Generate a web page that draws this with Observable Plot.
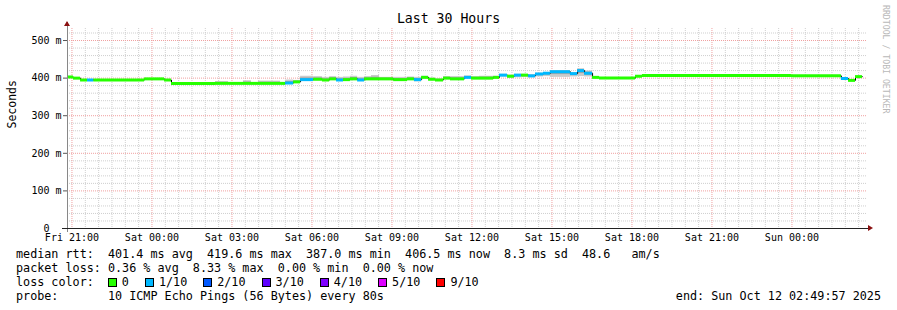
<!DOCTYPE html>
<html><head><meta charset="utf-8">
<script src="https://cdn.jsdelivr.net/npm/d3@7"></script>
<script src="https://cdn.jsdelivr.net/npm/@observablehq/plot@0.6"></script>
<style>
body{margin:0;background:#fff;}
#wrap{position:relative;width:897px;height:310px;overflow:hidden;font-family:"DejaVu Sans Mono",monospace;color:#000;background:#fff;}
#chart{position:absolute;left:0;top:0;}
#title{position:absolute;left:0;width:897px;top:11px;text-align:center;font-size:13.2px;line-height:16px;}
#mark{position:absolute;left:881px;top:5px;font-size:8.2px;color:#b8b8b8;writing-mode:vertical-rl;white-space:pre;line-height:10px;}
.ln{position:absolute;left:16px;font-size:11.75px;line-height:14px;white-space:pre;}
.box{display:inline-block;width:7px;height:7px;border:1px solid #000;vertical-align:-1px;}
#lossrow{display:flex;align-items:center;}
#lossrow span.t{margin-right:16px;}
#endline{position:absolute;right:16px;font-size:11.75px;line-height:14px;white-space:pre;}
</style></head><body>
<div id="wrap">
  <div id="chart"></div>
  <div id="title">Last 30 Hours</div>
  <div id="mark">RRDTOOL / TOBI OETIKER</div>
  <div class="ln" id="l1" style="top:247px"></div>
  <div class="ln" id="l2" style="top:261px"></div>
  <div class="ln" id="l3" style="top:275px"></div>
  <div class="ln" id="l4" style="top:289px"></div>
  <div id="endline" style="top:289px"></div>
</div>
<script>
// ---- data ----
const endTimeUTC = Date.UTC(2025, 9, 12, 2, 49, 57);   // Sun Oct 12 02:49:57 2025
const spanHours = 30;
// start of each median step, hours after the graph start
const segStartHour = [0, 0.225, 0.49, 0.75, 0.99, 2.89, 3.64, 3.90, 5.55, 6.04,
  6.60, 6.90, 7.16, 7.99, 8.18, 8.48, 8.74, 9.23, 9.56, 9.83,
  10.09, 10.35, 10.61, 10.88, 11.14, 11.40, 11.70, 12.23, 12.75, 13.01,
  13.28, 13.54, 13.80, 14.10, 14.36, 14.89, 15.15, 15.45, 15.98, 16.20,
  16.50, 16.76, 17.03, 17.29, 17.55, 17.85, 18.11, 18.86, 19.13, 19.39,
  19.69, 19.95, 21.30, 21.56, 27.15, 29.02, 29.29, 29.55];
const dataEndHour = 29.81;
// median rtt of each step, ms
const medianMs = [403, 400, 395, 395, 395, 398, 395, 386, 386, 386,
  386, 386, 386, 386, 387, 390, 396, 397, 395, 398,
  395, 396, 398, 395, 398, 398, 398, 396, 398, 396,
  402, 397, 395, 400, 398, 402, 400, 400, 402, 408,
  405, 408, 408, 406, 411, 413, 417, 412, 420, 413,
  402, 400, 405, 407, 406, 399, 394, 404];
// lost pings out of 10 for each step
const lossTenths = [0, 0, 0, 1, 0, 0, 0, 0, 0, 0,
  0, 0, 0, 0, 1, 0, 1, 0, 0, 0,
  1, 0, 0, 1, 0, 0, 0, 0, 0, 1,
  0, 0, 0, 0, 0, 1, 0, 0, 0, 1,
  0, 1, 0, 1, 1, 1, 1, 1, 1, 1,
  0, 0, 0, 0, 0, 1, 0, 0];
// smoke (spread of the pings) low / high, ms
const smokeLoMs = [401, 398, 394, 394, 394, 397, 394, 385, 385, 385,
  385, 385, 385, 385, 385, 388, 393, 393, 392, 396,
  392, 394, 395, 393, 395, 394, 396, 394, 396, 390,
  400, 395, 393, 397, 396, 399, 397, 396, 398, 403,
  400, 401, 402, 401, 403, 404, 402, 403, 404, 403,
  401, 399, 404, 406, 405, 398, 393, 403];
const smokeHiMs = [405, 401, 396, 396, 396, 399, 396, 387, 391, 387,
  393, 387, 392, 387, 395, 394, 405, 404, 402, 404,
  402, 403, 405, 402, 404, 407, 402, 402, 403, 402,
  405, 400, 398, 404, 404, 406, 404, 405, 405, 410,
  408, 410, 410, 409, 413, 415, 420, 414, 425, 419,
  403, 401, 406, 408, 407, 400, 395, 405];
const lossLabels = ["0", "1/10", "2/10", "3/10", "4/10", "5/10", "9/10"];
const lossColors = ["#26ff00", "#00b8ff", "#0059ff", "#5e00ff", "#7e00ff", "#dd00ff", "#ff0000"];
const yMajorTicks = [0, 100, 200, 300, 400, 500];
const yTop = 532;
const statsLine = "median rtt:  401.4 ms avg  419.6 ms max  387.0 ms min  406.5 ms now  8.3 ms sd  48.6   am/s";
const lossLine = "packet loss: 0.36 % avg  8.33 % max  0.00 % min  0.00 % now";
const probeLine = "probe:       10 ICMP Echo Pings (56 Bytes) every 80s";
const endLine = "end: Sun Oct 12 02:49:57 2025";

// ---- build ----
const endTime = new Date(endTimeUTC);
const startTime = new Date(endTimeUTC - spanHours * 3600e3);
const toDate = h => new Date(startTime.getTime() + h * 3600e3);
const segs = segStartHour.map((h, i) => ({
  x1: toDate(h),
  x2: toDate(i + 1 < segStartHour.length ? segStartHour[i + 1] : dataEndHour),
  med: medianMs[i], loss: lossTenths[i], lo: smokeLoMs[i], hi: smokeHiMs[i]
}));
const stepPts = segs.map(d => ({x: d.x1, y: d.med}));
stepPts.push({x: segs[segs.length - 1].x2, y: segs[segs.length - 1].med});

const xMajor = d3.utcHour.every(3).range(startTime, endTime);
const xMinor = d3.utcMinute.every(30).range(startTime, endTime).filter(d => d.getUTCMinutes() !== 0 || d.getUTCHours() % 3 !== 0);
const yMinor = d3.range(20, yTop, 20).filter(v => v % 100 !== 0);

const minorStyle = {stroke: "#cfcfcf", strokeDasharray: "1,1", strokeWidth: 1};
const majorStyle = {stroke: "#f0a0a0", strokeDasharray: "1,1", strokeWidth: 1};

const plot = Plot.plot({
  width: 897, height: 245,
  marginLeft: 67, marginRight: 30, marginTop: 28, marginBottom: 17,
  style: {fontFamily: "DejaVu Sans Mono", fontSize: "10px", background: "transparent", overflow: "visible", color: "#000"},
  x: {type: "utc", domain: [startTime, endTime]},
  y: {domain: [0, yTop]},
  color: {type: "identity"},
  marks: [
    Plot.ruleY(yMinor, minorStyle),
    Plot.ruleX(xMinor, minorStyle),
    Plot.ruleY(yMajorTicks.filter(v => v > 0), majorStyle),
    Plot.ruleX(xMajor, majorStyle),
    Plot.rect(segs, {x1: "x1", x2: "x2", y1: "lo", y2: "hi", fill: "#cacaca"}),
    Plot.rect(segs, {x1: "x1", x2: "x2", y1: d => (d.lo + d.med) / 2, y2: d => (d.hi + d.med) / 2, fill: "#a4a4a4"}),
    Plot.line(stepPts, {x: "x", y: "y", curve: "step-after", stroke: "#000", strokeWidth: 1}),
    Plot.ruleY(segs, {y: "med", x1: "x1", x2: "x2", stroke: d => lossColors[d.loss], strokeWidth: 3}),
    Plot.axisY(yMajorTicks, {tickFormat: d => d === 0 ? "0\u00a0\u00a0" : d + " m", tickSize: 4, tickPadding: 2, label: null, stroke: "#555"}),
    Plot.axisX(xMajor, {tickFormat: d3.utcFormat("%a %H:%M"), tickSize: 0, tickPadding: 5, label: null}),
    Plot.ruleX([startTime], {stroke: "#888", insetTop: -6, insetBottom: -4}),
    Plot.ruleY([0], {stroke: "#222", insetLeft: -5, insetRight: -2}),
    Plot.text(["Seconds"], {frameAnchor: "left", rotate: -90, dx: -55, fontSize: 11.5, text: d => d})
  ]
});
document.getElementById("chart").appendChild(plot);

// axis arrows
const svg = d3.select(plot);
const sx = plot.scale("x"), sy = plot.scale("y");
const ax = sx.apply(startTime), ay0 = sy.apply(0), axEnd = sx.apply(endTime), ayTop = sy.apply(yTop);
svg.append("path").attr("d", `M${ax - 3},${ayTop - 2}L${ax + 3},${ayTop - 2}L${ax},${ayTop - 7}Z`).attr("fill", "#8a1010");
svg.append("path").attr("d", `M${axEnd + 1},${ay0 - 3}L${axEnd + 1},${ay0 + 3}L${axEnd + 6},${ay0}Z`).attr("fill", "#8a1010");

// legend
document.getElementById("l1").textContent = statsLine;
document.getElementById("l2").textContent = lossLine;
document.getElementById("l4").textContent = probeLine;
document.getElementById("endline").textContent = endLine;
const l3 = document.getElementById("l3");
l3.id = "lossrow"; l3.classList.add("ln");
const lab = document.createElement("span");
lab.textContent = "loss color:";
lab.style.marginRight = "14px";
l3.appendChild(lab);
lossLabels.forEach((t, i) => {
  const b = document.createElement("span");
  b.className = "box"; b.style.background = lossColors[i]; b.style.marginRight = "5px";
  const s = document.createElement("span");
  s.className = "t"; s.textContent = t;
  l3.appendChild(b); l3.appendChild(s);
});
</script>
</body></html>
